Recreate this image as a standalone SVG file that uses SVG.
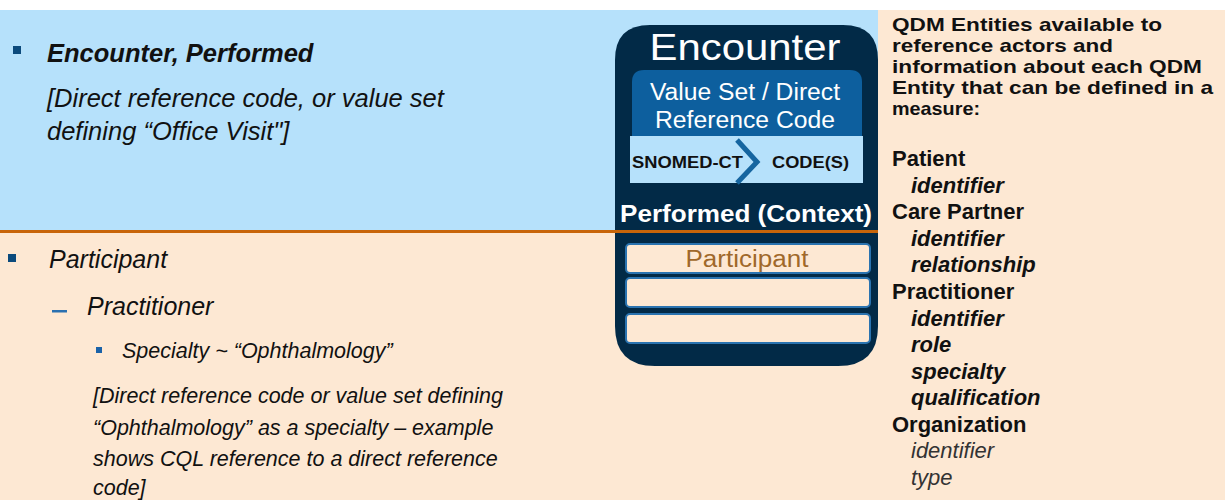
<svg xmlns="http://www.w3.org/2000/svg" width="1225" height="500" viewBox="0 0 1225 500">
<style>
.t{font-family:"Liberation Sans",Arial,sans-serif;fill:#111}
.i{font-style:italic}
.b{font-weight:bold}
.w{fill:#fff}
.r{font-family:"Liberation Sans",Arial,sans-serif;font-size:22px;fill:#111;font-weight:bold}
.h{font-family:"Liberation Sans",Arial,sans-serif;font-size:18.5px;fill:#111;font-weight:bold}
.slot{fill:#fde8d3;stroke:#2a73b0;stroke-width:2}
</style>
<rect x="0" y="0" width="1225" height="500" fill="#fff"/>
<g id="background">
<rect x="0" y="10" width="878" height="222" fill="#b6e1fb"/>
<rect x="0" y="232" width="878" height="268" fill="#fde8d3"/>
<rect x="878" y="10" width="347" height="490" fill="#fde8d3"/>
</g>
<g id="left-text">
<rect x="13" y="46" width="8" height="8" fill="#0b4a7c"/>
<text class="t i b" x="47" y="62" font-size="25.5">Encounter, Performed</text>
<text class="t i" x="47" y="107" font-size="25.5">[Direct reference code, or value set</text>
<text class="t i" x="47" y="140" font-size="25.5">defining “Office Visit"]</text>
<rect x="8" y="254" width="8" height="8" fill="#0b4a7c"/>
<text class="t i" x="49" y="268" font-size="25">Participant</text>
<rect x="52" y="310" width="15" height="2.5" fill="#2a70b0"/>
<text class="t i" x="87" y="315" font-size="25">Practitioner</text>
<rect x="96" y="347" width="6" height="6" fill="#1a62a8"/>
<text class="t i" x="122" y="358" font-size="21.5">Specialty ~ “Ophthalmology”</text>
<text class="t i" x="93" y="403" font-size="21.5">[Direct reference code or value set defining</text>
<text class="t i" x="93" y="435" font-size="21.5">“Ophthalmology” as a specialty – example</text>
<text class="t i" x="93" y="466" font-size="21.5">shows CQL reference to a direct reference</text>
<text class="t i" x="93" y="495" font-size="21.5">code]</text>
</g>
<g id="encounter-node">
<path d="M615,60 Q615,25 650,25 L843,25 Q878,25 878,60 L878,326 Q878,366 838,366 L655,366 Q615,366 615,326 Z" fill="#022a47"/>
<text class="t w" x="745" y="60" font-size="37" text-anchor="middle" textLength="191" lengthAdjust="spacingAndGlyphs">Encounter</text>
<path d="M632,136 L632,82 Q632,70 644,70 L850,70 Q862,70 862,82 L862,136 Z" fill="#0d5f9e"/>
<text class="t w" x="745" y="100" font-size="23" text-anchor="middle" textLength="190" lengthAdjust="spacingAndGlyphs">Value Set / Direct</text>
<text class="t w" x="745" y="128" font-size="23" text-anchor="middle" textLength="180" lengthAdjust="spacingAndGlyphs">Reference Code</text>
<rect x="630" y="136" width="233" height="47" fill="#b6e1fb"/>
<text class="t b" x="632" y="168" font-size="17" textLength="111" lengthAdjust="spacingAndGlyphs">SNOMED-CT</text>
<polyline points="737,140 757,162 737,183" fill="none" stroke="#1565a0" stroke-width="5"/>
<text class="t b" x="772" y="168" font-size="17" textLength="77" lengthAdjust="spacingAndGlyphs">CODE(S)</text>
<text class="t b w" x="746" y="222" font-size="24" text-anchor="middle" textLength="252" lengthAdjust="spacingAndGlyphs">Performed (Context)</text>
<rect class="slot" x="626" y="244" width="244" height="29" rx="4"/>
<rect class="slot" x="626" y="278" width="244" height="29" rx="4"/>
<rect class="slot" x="626" y="314" width="244" height="29" rx="4"/>
<text x="747" y="267" font-family="Liberation Sans, Arial, sans-serif" font-size="23" fill="#a0682a" text-anchor="middle" textLength="123" lengthAdjust="spacingAndGlyphs">Participant</text>
</g>
<g id="connectors">
<line x1="0" y1="231.5" x2="878" y2="231.5" stroke="#c8650a" stroke-width="3"/>
</g>
<g id="right-text">
<text class="h" x="892" y="31" textLength="270" lengthAdjust="spacingAndGlyphs">QDM Entities available to</text>
<text class="h" x="892" y="52" textLength="221" lengthAdjust="spacingAndGlyphs">reference actors and</text>
<text class="h" x="892" y="73" textLength="310" lengthAdjust="spacingAndGlyphs">information about each QDM</text>
<text class="h" x="892" y="94" textLength="321" lengthAdjust="spacingAndGlyphs">Entity that can be defined in a</text>
<text class="h" x="892" y="115" textLength="88" lengthAdjust="spacingAndGlyphs">measure:</text>
<text class="r" x="892" y="166">Patient</text>
<text class="r i" x="911" y="193">identifier</text>
<text class="r" x="892" y="219">Care Partner</text>
<text class="r i" x="911" y="246">identifier</text>
<text class="r i" x="911" y="272">relationship</text>
<text class="r" x="892" y="299">Practitioner</text>
<text class="r i" x="911" y="326">identifier</text>
<text class="r i" x="911" y="352">role</text>
<text class="r i" x="911" y="379">specialty</text>
<text class="r i" x="911" y="405">qualification</text>
<text class="r" x="892" y="432">Organization</text>
<text class="r i" x="911" y="458" style="font-weight:normal;fill:#333">identifier</text>
<text class="r i" x="911" y="485" style="font-weight:normal;fill:#333">type</text>
</g>
</svg>
